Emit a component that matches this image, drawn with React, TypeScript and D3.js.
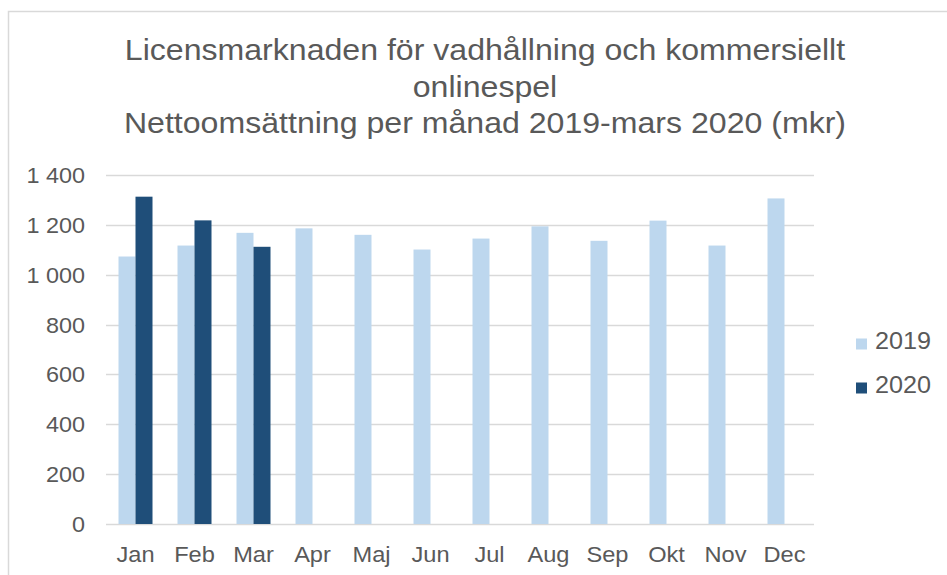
import { useEffect, useRef } from 'react';
import * as d3 from 'd3';

const months = ['Jan', 'Feb', 'Mar', 'Apr', 'Maj', 'Jun', 'Jul', 'Aug', 'Sep', 'Okt', 'Nov', 'Dec'];
const series = ['2019', '2020'];
const values2019 = [1073, 1117, 1168, 1186, 1160, 1101, 1145, 1194, 1136, 1217, 1117, 1306];
const values2020 = [1313, 1218, 1112, null, null, null, null, null, null, null, null, null];
const yTicks = [0, 200, 400, 600, 800, 1000, 1200, 1400];
const titleLines = [
  'Licensmarknaden för vadhållning och kommersiellt',
  'onlinespel',
  'Nettoomsättning per månad 2019-mars 2020 (mkr)',
];

const colors = ['#BDD7EE', '#1F4E79'];
const textColor = '#595959';
const font = '"Liberation Sans", Arial, sans-serif';

export default function App() {
  const svgRef = useRef<SVGSVGElement>(null);

  useEffect(() => {
    if (!svgRef.current) return;
    const svg = d3.select(svgRef.current);
    svg.selectAll('*').remove();

    const width = 947;
    const height = 575;
    const left = 106, right = 814, top = 175, bottom = 524;

    // chart frame (runs off the right and bottom edges)
    svg.append('rect')
      .attr('x', 8.5).attr('y', 11.5)
      .attr('width', 1000).attr('height', 700)
      .attr('fill', '#fff')
      .attr('stroke', '#D9D9D9')
      .attr('stroke-width', 1.5);

    const x = d3.scaleBand<string>().domain(months).range([left, right]).paddingInner(0).paddingOuter(0);
    const groupPad = (x.bandwidth() - 34) / 2;
    const xSub = d3.scaleBand<string>().domain(series).range([groupPad, x.bandwidth() - groupPad]);
    const y = d3.scaleLinear().domain([0, 1400]).range([bottom, top]);

    // gridlines
    svg.append('g')
      .selectAll('line')
      .data(yTicks)
      .enter()
      .append('line')
      .attr('x1', left).attr('x2', right)
      .attr('y1', d => Math.round(y(d)) + 0.5)
      .attr('y2', d => Math.round(y(d)) + 0.5)
      .attr('stroke', '#D9D9D9')
      .attr('stroke-width', 1.3);

    // y labels
    svg.append('g')
      .selectAll('text')
      .data(yTicks)
      .enter()
      .append('text')
      .attr('transform', d => `translate(85,${y(d) + 8}) scale(1.04,1)`)
      .attr('text-anchor', 'end')
      .style('font-family', font)
      .style('font-size', '22.5px')
      .style('fill', textColor)
      .text(d => d3.format(',')(d).replace(/,/g, ' '));

    // bars
    const allSeries = [values2019, values2020];
    allSeries.forEach((vals, si) => {
      svg.append('g')
        .selectAll('rect')
        .data(vals.map((v, i) => ({ v, m: months[i] })).filter(d => d.v != null))
        .enter()
        .append('rect')
        .attr('x', d => (x(d.m) ?? 0) + (xSub(series[si]) ?? 0))
        .attr('y', d => y(d.v as number))
        .attr('width', xSub.bandwidth())
        .attr('height', d => bottom - y(d.v as number))
        .attr('fill', colors[si]);
    });

    // x labels
    svg.append('g')
      .selectAll('text')
      .data(months)
      .enter()
      .append('text')
      .attr('transform', d => `translate(${(x(d) ?? 0) + x.bandwidth() / 2},562) scale(1.05,1)`)
      .attr('text-anchor', 'middle')
      .style('font-family', font)
      .style('font-size', '22.5px')
      .style('fill', textColor)
      .text(d => d);

    // title
    svg.append('g')
      .selectAll('text')
      .data(titleLines)
      .enter()
      .append('text')
      .attr('transform', (d, i) => `translate(485,${60 + i * 36.5}) scale(1.07,1)`)
      .attr('text-anchor', 'middle')
      .style('font-family', font)
      .style('font-size', '30px')
      .style('fill', textColor)
      .text(d => d);

    // legend
    const legend = svg.append('g')
      .selectAll('g')
      .data(series)
      .enter()
      .append('g')
      .attr('transform', (d, i) => `translate(856,${344 + i * 44})`);
    legend.append('rect')
      .attr('x', 0).attr('y', -5.5)
      .attr('width', 11).attr('height', 11)
      .attr('fill', (d, i) => colors[i]);
    legend.append('text')
      .attr('transform', 'translate(19,5) scale(1.05,1)')
      .style('font-family', font)
      .style('font-size', '24px')
      .style('fill', textColor)
      .text(d => d);

    svg.attr('width', width).attr('height', height);
  }, []);

  return (
    <div style={{ position: 'absolute', left: 0, top: 0 }}>
      <svg ref={svgRef} width={947} height={575} style={{ display: 'block', background: '#fff' }} />
    </div>
  );
}
